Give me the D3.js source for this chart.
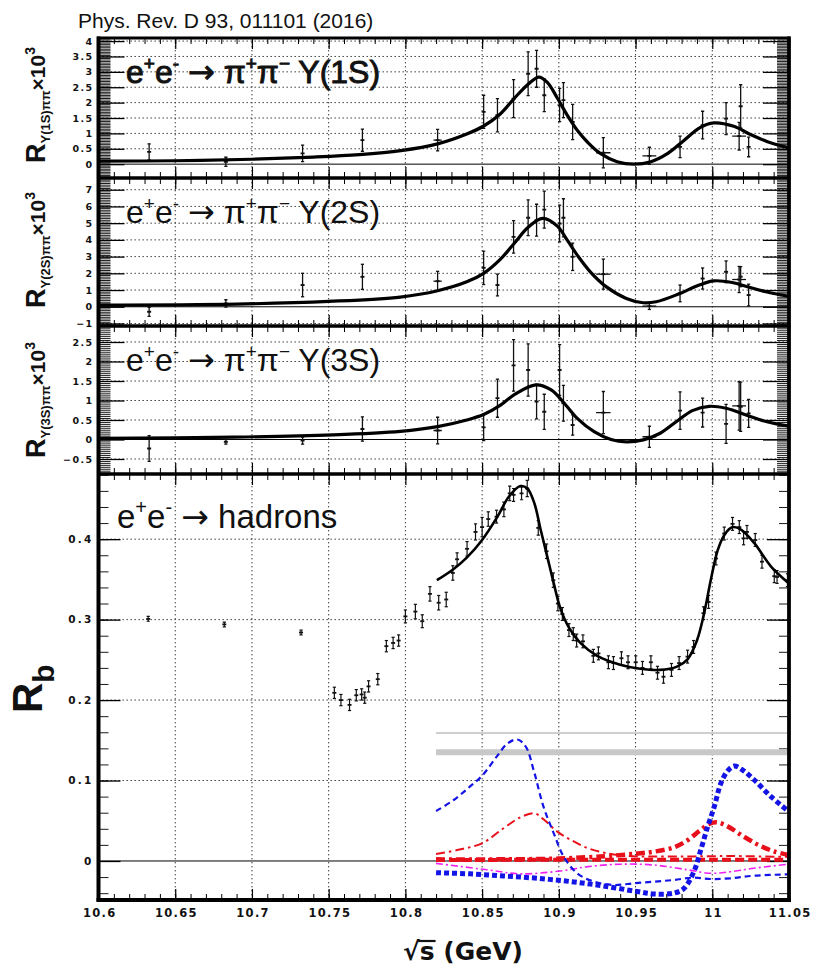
<!DOCTYPE html>
<html>
<head>
<meta charset="utf-8">
<script src="https://cdn.jsdelivr.net/npm/d3@7"></script>
<style>
  body { margin: 0; background: #fff; }
  svg { display: block; }
</style>
</head>
<body>
<script>
// ---------------- data ----------------
const xTickValues = [10.6, 10.65, 10.7, 10.75, 10.8, 10.85, 10.9, 10.95, 11.0, 11.05];
const xTickLabels = ["10.6", "10.65", "10.7", "10.75", "10.8", "10.85", "10.9", "10.95", "11", "11.05"];

const ticks1S = [0, 0.5, 1, 1.5, 2, 2.5, 3, 3.5, 4];
const labels1S = ["0", "0.5", "1", "1.5", "2", "2.5", "3", "3.5", "4"];
const ticks2S = [-1, 0, 1, 2, 3, 4, 5, 6, 7];
const labels2S = ["\u22121", "0", "1", "2", "3", "4", "5", "6", "7"];
const ticks3S = [-0.5, 0, 0.5, 1, 1.5, 2, 2.5];
const labels3S = ["\u22120.5", "0", "0.5", "1", "1.5", "2", "2.5"];
const ticksRb = [0, 0.1, 0.2, 0.3, 0.4];
const labelsRb = ["0", "0.1", "0.2", "0.3", "0.4"];

// scan energies (GeV) shared by the three pi+pi- Upsilon(nS) channels
const scanEnergy    = [10.633, 10.683, 10.733, 10.772, 10.821, 10.851, 10.860, 10.8705, 10.880, 10.8855, 10.8905, 10.9005, 10.903, 10.909, 10.929, 10.959, 10.979, 10.9937, 11.009, 11.0175, 11.0185, 11.0237];
const scanEnergyErr = [0, 0, 0, 0, 0.0027, 0, 0, 0, 0, 0, 0, 0, 0, 0, 0.0047, 0.0045, 0, 0, 0, 0.0045, 0, 0];

const r1S    = [0.40, 0.075, 0.35, 0.78, 0.78, 1.70, 1.59, 2.13, 2.94, 3.10, 2.24, 1.92, 2.08, 1.37, 0.37, 0.27, 0.56, 1.27, 1.48, 0.91, 1.88, 0.56];
const r1SErr = [0.26, 0.15, 0.27, 0.36, 0.35, 0.54, 0.54, 0.62, 0.71, 0.60, 0.53, 0.54, 0.57, 0.57, 0.49, 0.28, 0.35, 0.45, 0.52, 0.45, 0.70, 0.32];

const r2S    = [-0.30, 0.20, 1.30, 1.79, 1.53, 2.33, 1.30, 4.18, 5.32, 5.18, 5.81, 4.98, 5.32, 2.99, 1.95, 0.04, 0.80, 1.69, 2.09, 1.63, 1.80, 0.70];
const r2SErr = [0.27, 0.22, 0.70, 0.75, 0.59, 1.00, 0.65, 0.97, 1.07, 0.95, 1.11, 1.10, 1.14, 0.82, 0.90, 0.20, 0.50, 0.63, 0.65, 0.78, 0.60, 0.65];

const r3S    = [-0.23, -0.06, -0.03, 0.27, 0.23, 0.31, 1.06, 1.90, 1.78, 0.97, 0.71, 1.78, 0.93, 0.37, 0.69, 0.07, 0.74, 0.69, 0.40, 0.86, 0.84, 0.67];
const r3SErr = [0.33, 0.06, 0.09, 0.31, 0.34, 0.34, 0.49, 0.66, 0.67, 0.44, 0.45, 0.65, 0.46, 0.26, 0.54, 0.27, 0.48, 0.37, 0.50, 0.62, 0.63, 0.36];

// fitted line shapes [sqrt(s), value]
const fit1S = [[10.6, 0.10], [10.65, 0.11], [10.7, 0.16], [10.74, 0.23], [10.77, 0.31], [10.797, 0.44], [10.821, 0.66], [10.840, 0.98], [10.851, 1.24], [10.862, 1.64], [10.871, 2.14], [10.880, 2.60], [10.887, 2.83], [10.8925, 2.66], [10.899, 2.15], [10.9055, 1.59], [10.912, 1.10], [10.9186, 0.72], [10.927, 0.35], [10.938, 0.08], [10.949, 0.0], [10.960, 0.08], [10.971, 0.35], [10.9817, 0.78], [10.992, 1.19], [11.001, 1.34], [11.014, 1.23], [11.025, 0.96], [11.036, 0.73], [11.05, 0.53]];
const fit2S = [[10.6, 0.10], [10.69, 0.16], [10.75, 0.32], [10.7967, 0.58], [10.821, 0.96], [10.840, 1.49], [10.851, 2.00], [10.862, 2.85], [10.871, 3.80], [10.880, 4.75], [10.8895, 5.28], [10.899, 4.82], [10.9055, 3.98], [10.912, 3.09], [10.9205, 2.09], [10.931, 1.19], [10.944, 0.50], [10.955, 0.24], [10.9635, 0.30], [10.978, 0.76], [10.9915, 1.30], [11.001, 1.55], [11.013, 1.45], [11.024, 1.17], [11.035, 0.90], [11.05, 0.62]];
const fit3S = [[10.6, 0.03], [10.688, 0.06], [10.753, 0.12], [10.7967, 0.21], [10.821, 0.33], [10.840, 0.50], [10.851, 0.64], [10.862, 0.88], [10.871, 1.15], [10.885, 1.40], [10.895, 1.27], [10.9035, 0.93], [10.912, 0.54], [10.923, 0.20], [10.934, 0.0], [10.944, -0.06], [10.955, -0.01], [10.966, 0.16], [10.978, 0.50], [10.987, 0.74], [10.998, 0.85], [11.009, 0.80], [11.022, 0.63], [11.035, 0.46], [11.05, 0.34]];

// R_b measurements [sqrt(s), R_b, error]
const rbData = [
  [10.6324, 0.301, 0.003], [10.682, 0.294, 0.003], [10.732, 0.284, 0.003],
  [10.7537, 0.209, 0.007], [10.758, 0.200, 0.007], [10.7636, 0.194, 0.007], [10.768, 0.206, 0.007],
  [10.7715, 0.207, 0.007], [10.7735, 0.203, 0.007], [10.776, 0.217, 0.007], [10.782, 0.226, 0.007],
  [10.7876, 0.267, 0.007], [10.792, 0.271, 0.007], [10.7956, 0.274, 0.007], [10.800, 0.304, 0.008],
  [10.8065, 0.310, 0.009], [10.811, 0.298, 0.008], [10.816, 0.332, 0.009], [10.8217, 0.321, 0.009],
  [10.8266, 0.325, 0.009], [10.8309, 0.358, 0.009], [10.8337, 0.375, 0.008], [10.8402, 0.388, 0.009],
  [10.8457, 0.409, 0.010], [10.8500, 0.415, 0.012], [10.854, 0.425, 0.009], [10.8594, 0.428, 0.008],
  [10.8642, 0.437, 0.009], [10.868, 0.457, 0.009], [10.8705, 0.455, 0.008], [10.8757, 0.457, 0.008],
  [10.8794, 0.463, 0.010], [10.8866, 0.414, 0.009], [10.892, 0.385, 0.009], [10.8964, 0.349, 0.009],
  [10.8994, 0.320, 0.009], [10.9023, 0.307, 0.008], [10.9066, 0.287, 0.008], [10.9094, 0.282, 0.008],
  [10.9116, 0.274, 0.008], [10.9157, 0.273, 0.008], [10.9225, 0.255, 0.008], [10.9258, 0.258, 0.008],
  [10.9323, 0.247, 0.008], [10.9356, 0.246, 0.008], [10.9408, 0.252, 0.008], [10.9451, 0.247, 0.008],
  [10.9501, 0.247, 0.008], [10.9545, 0.240, 0.008], [10.9600, 0.247, 0.008], [10.9643, 0.234, 0.008],
  [10.9682, 0.229, 0.008], [10.9734, 0.2375, 0.008], [10.9784, 0.246, 0.008], [10.9839, 0.254, 0.008],
  [10.9878, 0.266, 0.008], [10.9943, 0.308, 0.008], [10.9976, 0.322, 0.008], [11.0024, 0.376, 0.008],
  [11.0078, 0.407, 0.008], [11.0132, 0.419, 0.008], [11.0176, 0.415, 0.008], [11.0204, 0.401, 0.008],
  [11.0226, 0.409, 0.008], [11.028, 0.399, 0.008], [11.0324, 0.372, 0.008], [11.0404, 0.354, 0.008],
  [11.0422, 0.353, 0.008], [11.049, 0.349, 0.008]
];

const fitRb = [[10.8205, 0.349], [10.8315, 0.363], [10.840, 0.377], [10.850, 0.399], [10.860, 0.428], [10.8675, 0.453], [10.875, 0.466], [10.8795, 0.463], [10.884, 0.445], [10.888, 0.413], [10.8925, 0.378], [10.8967, 0.345], [10.901, 0.314], [10.9066, 0.290], [10.914, 0.271], [10.925, 0.255], [10.940, 0.244], [10.953, 0.239], [10.966, 0.2375], [10.977, 0.2416], [10.984, 0.251], [10.990, 0.274], [10.9947, 0.308], [10.999, 0.349], [11.0035, 0.386], [11.0078, 0.405], [11.0132, 0.415], [11.0187, 0.412], [11.0274, 0.395], [11.0383, 0.366], [11.05, 0.345]];

// fit components for R_b
const compBlueThin = [[10.82, 0.062], [10.8315, 0.0758], [10.842, 0.0924], [10.85, 0.106], [10.86, 0.131], [10.8665, 0.146], [10.873, 0.151], [10.8785, 0.142], [10.884, 0.110], [10.890, 0.0675], [10.8967, 0.0344], [10.903, 0.006], [10.912, -0.0153], [10.923, -0.0257], [10.936, -0.0298], [10.949, -0.0277], [10.962, -0.0257], [10.975, -0.0236], [10.988, -0.0207], [10.999, -0.0224], [11.012, -0.0215], [11.0274, -0.0183], [11.05, -0.0166]];
const compBlueThick = [[10.82, -0.0145], [10.842, -0.016], [10.864, -0.0187], [10.886, -0.0215], [10.908, -0.0257], [10.929, -0.031], [10.951, -0.038], [10.962, -0.041], [10.975, -0.040], [10.9816, -0.034], [10.988, -0.0133], [10.9925, 0.0137], [10.997, 0.0427], [11.0013, 0.0675], [11.0056, 0.0966], [11.010, 0.112], [11.0143, 0.118], [11.0198, 0.113], [11.0274, 0.1007], [11.0383, 0.080], [11.05, 0.0613]];
const compRedThin = [[10.82, 0.0087], [10.836, 0.0145], [10.85, 0.022], [10.864, 0.0407], [10.875, 0.0543], [10.884, 0.0593], [10.890, 0.0518], [10.899, 0.0365], [10.908, 0.026], [10.919, 0.0158], [10.9316, 0.0096], [10.9446, 0.0062], [10.96, 0.0055], [10.98, 0.0055], [11.0, 0.006], [11.02, 0.006], [11.05, 0.005]];
const compRedThick = [[10.82, 0.002], [10.86, 0.002], [10.9, 0.003], [10.93, 0.006], [10.95, 0.009], [10.962, 0.0116], [10.975, 0.017], [10.984, 0.026], [10.992, 0.038], [10.998, 0.046], [11.003, 0.048], [11.01, 0.043], [11.02, 0.031], [11.03, 0.020], [11.04, 0.012], [11.05, 0.0075]];
const compRedFlat = [[10.82, 0.0012], [10.9, 0.0015], [10.95, 0.0015], [11.0, 0.0015], [11.05, 0.0015]];
const compMagenta = [[10.82, -0.003], [10.8533, -0.011], [10.875, -0.016], [10.901, -0.0124], [10.919, -0.007], [10.94, -0.004], [10.962, -0.005], [10.984, -0.011], [10.999, -0.0153], [11.012, -0.0133], [11.027, -0.009], [11.05, -0.004]];
const compGrayThin = [[10.82, 0.159], [11.05, 0.159]];
const compGrayThick = [[10.82, 0.135], [11.05, 0.135]];

// ---------------- layout ----------------
const W = 816, H = 965;
const X0 = 98.5, X1 = 789;
const SANS = "'Liberation Sans', Arial, Helvetica, sans-serif";
const WIDE = "'DejaVu Sans', Verdana, sans-serif";

const svg = d3.select("body").append("svg")
  .attr("width", W).attr("height", H)
  .attr("viewBox", `0 0 ${W} ${H}`);

const x = d3.scaleLinear().domain([10.6, 11.05]).range([X0, X1]);

const panels = [
  { id: "p1", top: 38, bottom: 178, dom: [-0.45, 4.1], ticks: ticks1S, labels: labels1S, minor: 0.05,
    majLen: 26, minLen: 12, lblSize: 9.5, lblSpacing: 1.4 },
  { id: "p2", top: 178, bottom: 326, dom: [-1.15, 7.7], ticks: ticks2S, labels: labels2S, minor: 0.1,
    majLen: 26, minLen: 12, lblSize: 9.5, lblSpacing: 1.4 },
  { id: "p3", top: 326, bottom: 474, dom: [-0.885, 2.91], ticks: ticks3S, labels: labels3S, minor: 0.05,
    majLen: 26, minLen: 12, lblSize: 9.5, lblSpacing: 1.4 },
  { id: "p4", top: 474, bottom: 900, dom: [-0.0485, 0.481], ticks: ticksRb, labels: labelsRb, minor: 0.02,
    majLen: 22, minLen: 10, lblSize: 10.5, lblSpacing: 2.2 }
];
panels.forEach(p => {
  p.y = d3.scaleLinear().domain(p.dom).range([p.bottom, p.top]);
});

function steps(lo, hi, step) {
  const a = Math.ceil(lo / step - 1e-9), b = Math.floor(hi / step + 1e-9);
  return d3.range(a, b + 1).map(i => +(i * step).toFixed(6));
}
const xMinor = steps(10.6, 11.05, 0.01);

const defs = svg.append("defs");
panels.forEach(p => {
  defs.append("clipPath").attr("id", "clip-" + p.id)
    .append("rect").attr("x", X0).attr("y", p.top).attr("width", X1 - X0).attr("height", p.bottom - p.top);
});

// ---------------- grids, zero lines ----------------
panels.forEach(p => {
  const g = svg.append("g").attr("class", "grid");
  g.selectAll(null).data(xTickValues.slice(1, -1)).enter().append("line")
    .attr("x1", d => x(d)).attr("x2", d => x(d))
    .attr("y1", p.top).attr("y2", p.bottom)
    .attr("stroke", "#333").attr("stroke-width", 1).attr("stroke-dasharray", "1.4,2.6");
  g.selectAll(null).data(p.ticks.filter(t => t !== 0)).enter().append("line")
    .attr("x1", X0).attr("x2", X1)
    .attr("y1", d => p.y(d)).attr("y2", d => p.y(d))
    .attr("stroke", "#333").attr("stroke-width", 1).attr("stroke-dasharray", "1.4,2.6");
  g.append("line").attr("x1", X0).attr("x2", X1)
    .attr("y1", p.y(0)).attr("y2", p.y(0))
    .attr("stroke", "#000").attr("stroke-width", 1);
});

// ---------------- axes ticks ----------------
function styleAxis(g) {
  g.select(".domain").remove();
  g.selectAll(".tick line").attr("stroke", "#000");
}
panels.forEach((p, pi) => {
  // left minor & major
  svg.append("g").attr("transform", `translate(${X0},0)`)
    .call(d3.axisLeft(p.y).tickValues(steps(p.dom[0], p.dom[1], p.minor)).tickSizeInner(-p.minLen).tickSizeOuter(0).tickFormat(""))
    .call(styleAxis).selectAll(".tick line").attr("stroke-width", 0.9);
  const left = svg.append("g").attr("transform", `translate(${X0},0)`)
    .call(d3.axisLeft(p.y).tickValues(p.ticks).tickSizeInner(-p.majLen).tickSizeOuter(0).tickPadding(5)
      .tickFormat((d, i) => p.labels[i]))
    .call(styleAxis);
  left.selectAll(".tick line").attr("stroke-width", 1.3);
  left.attr("font-family", WIDE).attr("font-size", p.lblSize).attr("font-weight", "bold");
  left.selectAll(".tick text").attr("fill", "#111").style("letter-spacing", p.lblSpacing + "px");
  // right minor & major
  svg.append("g").attr("transform", `translate(${X1},0)`)
    .call(d3.axisRight(p.y).tickValues(steps(p.dom[0], p.dom[1], p.minor)).tickSizeInner(-p.minLen).tickSizeOuter(0).tickFormat(""))
    .call(styleAxis).selectAll(".tick line").attr("stroke-width", 0.9);
  svg.append("g").attr("transform", `translate(${X1},0)`)
    .call(d3.axisRight(p.y).tickValues(p.ticks).tickSizeInner(-p.majLen).tickSizeOuter(0).tickFormat(""))
    .call(styleAxis).selectAll(".tick line").attr("stroke-width", 1.3);
  // x ticks at bottom and top of every panel
  [["bottom", p.bottom], ["top", p.top]].forEach(([side, yy]) => {
    const mk = side === "bottom" ? d3.axisBottom : d3.axisTop;
    svg.append("g").attr("transform", `translate(0,${yy})`)
      .call(mk(x).tickValues(xMinor).tickSizeInner(-6).tickSizeOuter(0).tickFormat(""))
      .call(styleAxis).selectAll(".tick line").attr("stroke-width", 1);
    const major = svg.append("g").attr("transform", `translate(0,${yy})`)
      .call(mk(x).tickValues(xTickValues).tickSizeInner(-11).tickSizeOuter(0).tickPadding(9)
        .tickFormat((d, i) => (side === "bottom" && pi === 3) ? xTickLabels[i] : ""))
      .call(styleAxis);
    major.selectAll(".tick line").attr("stroke-width", 1.2);
    if (side === "bottom" && pi === 3) {
      major.attr("font-family", WIDE).attr("font-size", 11.5).attr("font-weight", "bold");
      major.selectAll(".tick text").attr("fill", "#111").style("letter-spacing", "1.3px")
        .attr("dx", "0.65px");
    }
  });
});

// ---------------- data drawing ----------------
function drawErrorPoints(g, y, xs, xe, ys, ye, w) {
  const pts = xs.map((v, i) => ({ x: v, xe: xe ? xe[i] : 0, y: ys[i], e: ye[i] }));
  const pg = g.selectAll(null).data(pts).enter().append("g")
    .attr("stroke", "#111").attr("stroke-width", w);
  pg.append("line")
    .attr("x1", d => x(d.x)).attr("x2", d => x(d.x))
    .attr("y1", d => y(d.y - d.e)).attr("y2", d => y(d.y + d.e));
  pg.append("line")
    .attr("x1", d => x(d.x) - 1.6).attr("x2", d => x(d.x) + 1.6)
    .attr("y1", d => y(d.y + d.e)).attr("y2", d => y(d.y + d.e));
  pg.append("line")
    .attr("x1", d => x(d.x) - 1.6).attr("x2", d => x(d.x) + 1.6)
    .attr("y1", d => y(d.y - d.e)).attr("y2", d => y(d.y - d.e));
  pg.append("line")
    .attr("x1", d => x(d.x) - 2).attr("x2", d => x(d.x) + 2)
    .attr("y1", d => y(d.y)).attr("y2", d => y(d.y)).attr("stroke-width", w + 0.6);
  pg.filter(d => d.xe > 0).append("line")
    .attr("x1", d => x(d.x - d.xe)).attr("x2", d => x(d.x + d.xe))
    .attr("y1", d => y(d.y)).attr("y2", d => y(d.y));
}

const smooth = d3.curveCatmullRom.alpha(0.5);
function drawCurve(g, y, pts, stroke, width, dash) {
  const line = d3.line().x(d => x(d[0])).y(d => y(d[1])).curve(smooth);
  g.append("path").datum(pts)
    .attr("d", line).attr("fill", "none")
    .attr("stroke", stroke).attr("stroke-width", width)
    .attr("stroke-dasharray", dash || null)
    .attr("stroke-linejoin", "round");
}

const upper = [
  [panels[0], r1S, r1SErr, fit1S],
  [panels[1], r2S, r2SErr, fit2S],
  [panels[2], r3S, r3SErr, fit3S]
];
upper.forEach(([p, vals, errs, fit]) => {
  const g = svg.append("g").attr("clip-path", `url(#clip-${p.id})`);
  drawErrorPoints(g, p.y, scanEnergy, scanEnergyErr, vals, errs, 1.3);
  drawCurve(g, p.y, fit, "#000", 3.2);
});

// R_b panel
{
  const p = panels[3];
  const g = svg.append("g").attr("clip-path", `url(#clip-${p.id})`);
  drawCurve(g, p.y, compGrayThin, "#cfcfcf", 2);
  drawCurve(g, p.y, compGrayThick, "#c8c8c8", 6);
  drawCurve(g, p.y, compMagenta, "#f020f0", 1.6, "7,3,2,3");
  drawCurve(g, p.y, compRedFlat, "#e8101a", 4, "9,4");
  drawCurve(g, p.y, compRedThin, "#e8101a", 2, "9,4,2.5,4");
  drawCurve(g, p.y, compRedThick, "#e8101a", 4.5, "9,4,3,4");
  drawCurve(g, p.y, compBlueThin, "#1414e6", 2.2, "6,4");
  drawCurve(g, p.y, compBlueThick, "#1414e6", 5, "5,3");
  drawErrorPoints(g, p.y, rbData.map(d => d[0]), null, rbData.map(d => d[1]), rbData.map(d => d[2]), 1.2);
  drawCurve(g, p.y, fitRb, "#000", 2.6);
}

// ---------------- frames ----------------
panels.forEach(p => {
  svg.append("rect").attr("x", X0).attr("y", p.top)
    .attr("width", X1 - X0).attr("height", p.bottom - p.top)
    .attr("fill", "none").attr("stroke", "#000").attr("stroke-width", 3);
});
svg.append("line").attr("x1", X0).attr("x2", X0).attr("y1", 36.5).attr("y2", 901.5)
  .attr("stroke", "#000").attr("stroke-width", 4);
svg.append("line").attr("x1", X1).attr("x2", X1).attr("y1", 36.5).attr("y2", 901.5)
  .attr("stroke", "#000").attr("stroke-width", 3.6);
svg.append("line").attr("x1", X0 - 2).attr("x2", X1 + 2).attr("y1", 900).attr("y2", 900)
  .attr("stroke", "#000").attr("stroke-width", 4);

// ---------------- text ----------------
svg.append("text").attr("x", 78).attr("y", 28)
  .attr("font-family", SANS).attr("font-size", 21).attr("fill", "#111")
  .text("Phys. Rev. D 93, 011101 (2016)");

// labels with super/subscripts
function richText(sel, parts, fs) {
  let shift = 0;
  parts.forEach(pt => {
    const target = pt.s === "sup" ? -0.42 * fs : pt.s === "sub" ? 0.2 * fs : 0;
    const ts = sel.append("tspan").text(pt.t).attr("dy", target - shift);
    if (pt.size) ts.attr("font-size", pt.size);
    if (pt.w) ts.attr("font-weight", pt.w);
    if (pt.f) ts.attr("font-family", pt.f);
    shift = target;
  });
}

const titleParts = n => [
  { t: "e" }, { t: "+", s: "sup", size: 19 }, { t: "e" }, { t: "-", s: "sup", size: 19 },
  { t: " " }, { t: "\u2192", f: WIDE }, { t: " \u03c0" }, { t: "+", s: "sup", size: 19 }, { t: "\u03c0" },
  { t: "\u2212", s: "sup", size: 19 },
  { t: " \u03a5(" + n + ")" }
];
[[panels[0], "1S", true], [panels[1], "2S", false], [panels[2], "3S", false]].forEach(([p, n, heavy]) => {
  const t = svg.append("text").attr("x", 126).attr("y", p.top + 45)
    .attr("font-family", SANS).attr("font-size", 32).attr("fill", "#111");
  if (heavy) t.attr("stroke", "#111").attr("stroke-width", 0.9);
  richText(t, titleParts(n), 32);
});
{
  const t = svg.append("text").attr("x", 117).attr("y", 528)
    .attr("font-family", SANS).attr("font-size", 33).attr("fill", "#111");
  richText(t, [{ t: "e" }, { t: "+", s: "sup", size: 20 }, { t: "e" }, { t: "-", s: "sup", size: 20 },
    { t: " " }, { t: "\u2192", f: WIDE }, { t: " hadrons" }], 33);
}

// rotated y-axis titles of the three upper panels
[[panels[0], "1S", 105], [panels[1], "2S", 250], [panels[2], "3S", 400]].forEach(([p, n, cy]) => {
  const t = svg.append("text")
    .attr("transform", `translate(45,${cy}) rotate(-90)`)
    .attr("text-anchor", "middle")
    .attr("font-family", SANS).attr("font-size", 27).attr("font-weight", "bold").attr("fill", "#111");
  richText(t, [
    { t: "R" },
    { t: "\u03a5(" + n + ")\u03c0\u03c0", s: "sub", size: 13, w: "bold" },
    { t: "\u00d710", size: 21 },
    { t: "3", s: "sup", size: 14 }
  ], 24);
});

// R_b title
{
  const t = svg.append("text")
    .attr("transform", "translate(42,713) rotate(-90)")
    .attr("font-family", SANS).attr("font-size", 42).attr("font-weight", "bold").attr("fill", "#111");
  t.append("tspan").text("R");
  t.append("tspan").text("b").attr("font-size", 30).attr("dy", 12);
}

// x-axis title with square-root overbar
{
  const t = svg.append("text").attr("x", 403).attr("y", 960)
    .attr("font-family", WIDE).attr("font-size", 25).attr("font-weight", "bold").attr("fill", "#111")
    .text("\u221as (GeV)");
  const node = t.node();
  const rootW = node.getSubStringLength(0, 1);
  const sW = node.getSubStringLength(1, 1);
  svg.append("line")
    .attr("x1", 403 + rootW - 2).attr("x2", 403 + rootW + sW + 1)
    .attr("y1", 941).attr("y2", 941)
    .attr("stroke", "#111").attr("stroke-width", 2.2);
}
</script>
</body>
</html>
